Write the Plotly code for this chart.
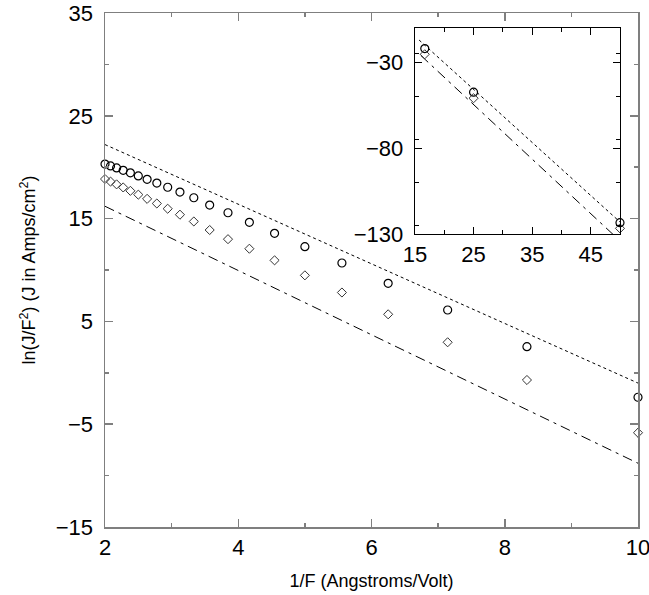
import plotly.graph_objects as go

# ---- main panel data ----
inv_f = [2.0, 2.083, 2.174, 2.273, 2.381, 2.5, 2.632, 2.778, 2.941, 3.125, 3.333,
         3.571, 3.846, 4.167, 4.545, 5.0, 5.556, 6.25, 7.143, 8.333, 10.0]
circles = [20.3, 20.12, 19.93, 19.7, 19.45, 19.15, 18.82, 18.46, 18.05, 17.58, 17.03,
           16.32, 15.57, 14.64, 13.57, 12.27, 10.68, 8.7, 6.11, 2.54, -2.38]
diamonds = [18.85, 18.6, 18.33, 18.03, 17.7, 17.33, 16.92, 16.47, 15.96, 15.38, 14.72,
            13.89, 13.0, 12.07, 10.94, 9.48, 7.81, 5.69, 2.97, -0.7, -5.83]
dotted_x = [2.0, 10.0]
dotted_y = [22.2, -1.0]
dashdot_x = [2.0, 10.0]
dashdot_y = [16.2, -8.8]

# ---- inset data ----
inset_x = [16.67, 25.0, 50.0]
inset_circles = [-22.0, -47.4, -123.4]
inset_diamonds = [-25.3, -50.9, -126.7]
inset_dotted_x = [15.7, 50.0]
inset_dotted_y = [-17.0, -123.0]
inset_dashdot_x = [16.0, 50.0]
inset_dashdot_y = [-26.0, -134.0]

FONT = "Liberation Sans, Arial, Helvetica, sans-serif"
DASHDOT = "10px,5px,3px,5px"

fig = go.Figure()

fig.add_trace(go.Scatter(x=dotted_x, y=dotted_y, mode="lines",
                         line=dict(color="black", width=1, dash="dot"), showlegend=False))
fig.add_trace(go.Scatter(x=dashdot_x, y=dashdot_y, mode="lines",
                         line=dict(color="black", width=1, dash=DASHDOT), showlegend=False))
fig.add_trace(go.Scatter(x=inv_f, y=circles, mode="markers", cliponaxis=False,
                         marker=dict(symbol="circle-open", size=8, color="black",
                                     line=dict(width=1.2)), showlegend=False))
fig.add_trace(go.Scatter(x=inv_f, y=diamonds, mode="markers", cliponaxis=False,
                         marker=dict(symbol="diamond-open", size=7, color="#333",
                                     line=dict(width=1)), showlegend=False))

fig.add_trace(go.Scatter(x=inset_dotted_x, y=inset_dotted_y, mode="lines", xaxis="x2", yaxis="y2",
                         line=dict(color="black", width=1, dash="dot"), showlegend=False))
fig.add_trace(go.Scatter(x=inset_dashdot_x, y=inset_dashdot_y, mode="lines", xaxis="x2", yaxis="y2",
                         line=dict(color="black", width=1, dash=DASHDOT), showlegend=False))
fig.add_trace(go.Scatter(x=inset_x, y=inset_circles, mode="markers", xaxis="x2", yaxis="y2",
                         cliponaxis=False,
                         marker=dict(symbol="circle-open", size=8, color="black",
                                     line=dict(width=1.2)), showlegend=False))
fig.add_trace(go.Scatter(x=inset_x, y=inset_diamonds, mode="markers", xaxis="x2", yaxis="y2",
                         cliponaxis=False,
                         marker=dict(symbol="diamond-open", size=7, color="#333",
                                     line=dict(width=1)), showlegend=False))

main_axis = dict(showgrid=False, zeroline=False, showline=True, linecolor="#7f7f7f",
                 linewidth=1.5, mirror="ticks", ticks="inside", tickcolor="#7f7f7f",
                 ticklen=8, tickwidth=1.5, automargin=False, ticklabeloverflow="allow",
                 tickfont=dict(size=22, color="black", family=FONT))
inset_axis = dict(showgrid=False, zeroline=False, showline=True, linecolor="black",
                  linewidth=1.2, mirror="ticks", ticks="inside", tickcolor="black",
                  ticklen=7, tickwidth=1.2, automargin=False, ticklabeloverflow="allow",
                  tickfont=dict(size=22, color="black", family=FONT))

fig.update_layout(
    width=649, height=595,
    margin=dict(l=105, r=11, t=13, b=68, autoexpand=False),
    plot_bgcolor="white", paper_bgcolor="white",
    font=dict(family=FONT, color="black"),
    xaxis=dict(main_axis, range=[2, 10], dtick=2, tick0=2,
               minor=dict(dtick=1, ticks="inside", ticklen=4, tickcolor="#7f7f7f"),
               title=dict(text="1/F (Angstroms/Volt)", font=dict(size=18))),
    yaxis=dict(main_axis, range=[-15, 35], dtick=10, tick0=-15, ticksuffix="\u00a0",
               minor=dict(dtick=5, ticks="inside", ticklen=4, tickcolor="#7f7f7f"),
               title=dict(text="ln(J/F<sup>2</sup>) (J in Amps/cm<sup>2</sup>)",
                          font=dict(size=18))),
    xaxis2=dict(inset_axis, anchor="y2", domain=[0.5816, 0.9662], range=[15, 50],
                dtick=10, tick0=15,
                minor=dict(dtick=5, ticks="inside", ticklen=4, tickcolor="black")),
    yaxis2=dict(inset_axis, anchor="x2", domain=[0.570, 0.9708], range=[-130, -10],
                dtick=50, tick0=-130, ticksuffix="\u00a0",
                minor=dict(dtick=25, ticks="inside", ticklen=4, tickcolor="black")),
)

fig.write_html(
    "out.html",
    config={"displayModeBar": False, "staticPlot": True},
    post_script="document.body.style.margin='0';document.body.style.overflow='hidden';",
)
